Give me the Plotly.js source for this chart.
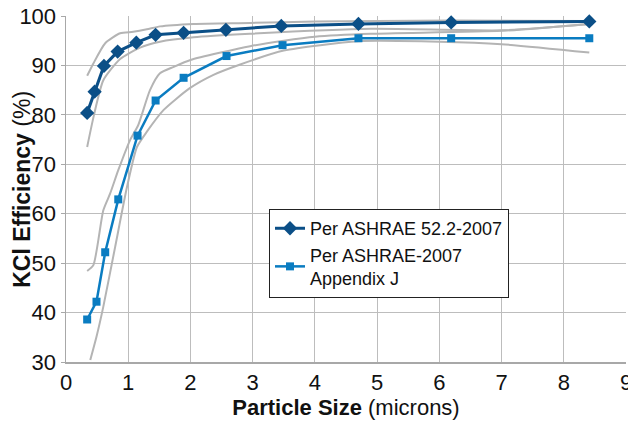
<!DOCTYPE html>
<html>
<head>
<meta charset="utf-8">
<script src="https://cdn.plot.ly/plotly-3.0.1.min.js"></script>
<style>html,body{margin:0;padding:0;background:#fff;}#chart{width:628px;height:421px;}</style>
</head>
<body>
<div id="chart"></div>
<script>
// Measured series
var sizeA = [0.34, 0.46, 0.61, 0.83, 1.13, 1.44, 1.89, 2.57, 3.46, 4.70, 6.19, 8.41];
var effA  = [80.4, 84.7, 89.9, 92.8, 94.6, 96.2, 96.6, 97.2, 98.0, 98.4, 98.7, 98.9];
var sizeB = [0.34, 0.49, 0.63, 0.84, 1.15, 1.44, 1.89, 2.58, 3.48, 4.70, 6.19, 8.41];
var effB  = [38.6, 42.2, 52.2, 62.9, 75.8, 82.9, 87.5, 91.9, 94.1, 95.5, 95.5, 95.5];

// Grey envelope curves
var envAUpX = [0.34, 0.44, 0.63, 0.87, 1.08, 1.30, 1.51, 2.05, 2.96, 4.0, 5.0, 6.2, 8.41];
var envAUpY = [87.9, 90.4, 94.5, 96.5, 96.8, 97.3, 97.9, 98.4, 98.6, 98.9, 99.0, 99.1, 99.0];
var envALoX = [0.34, 0.45, 0.60, 0.87, 1.19, 1.51, 2.05, 2.96, 4.9, 7.0, 8.41];
var envALoY = [73.5, 80.0, 87.0, 91.3, 93.6, 94.8, 95.7, 96.4, 97.4, 97.1, 98.4];
var envBUpX = [0.34, 0.44, 0.60, 0.71, 0.84, 1.03, 1.16, 1.35, 1.51, 1.73, 2.0, 2.96, 3.5, 4.0, 4.9, 7.0, 8.41];
var envBUpY = [48.4, 49.6, 60.7, 64.1, 68.8, 74.9, 77.9, 85.0, 88.4, 89.7, 91.1, 93.9, 95.0, 95.8, 96.4, 97.0, 98.4];
var envBLoX = [0.39, 0.49, 0.60, 0.79, 0.98, 1.14, 1.30, 1.57, 1.99, 2.37, 2.80, 3.50, 4.70, 6.0, 7.0, 8.41];
var envBLoY = [30.4, 35.1, 41.2, 53.3, 65.4, 73.5, 76.6, 81.0, 85.4, 88.1, 90.2, 93.0, 94.9, 94.8, 94.3, 92.6];

var xTicks = [0, 1, 2, 3, 4, 5, 6, 7, 8, 9];
var yTicks = [30, 40, 50, 60, 70, 80, 90, 100];

var FONT = '"Liberation Sans", Arial, sans-serif';
var grey = '#b4b4b4';

function env(x, y) {
  return {x: x, y: y, mode: 'lines', line: {color: grey, width: 2, shape: 'spline', smoothing: 0.6},
          showlegend: false, hoverinfo: 'skip', cliponaxis: false};
}

var traces = [
  env(envAUpX, envAUpY), env(envALoX, envALoY), env(envBUpX, envBUpY), env(envBLoX, envBLoY),
  {x: sizeA, y: effA, name: 'Per ASHRAE 52.2-2007', mode: 'lines+markers', cliponaxis: false,
   line: {color: '#0b4f87', width: 3}, marker: {symbol: 'diamond', size: 11, color: '#0b4f87'}},
  {x: sizeB, y: effB, name: 'Per ASHRAE-2007<br>Appendix J', mode: 'lines+markers', cliponaxis: false,
   line: {color: '#0a7cc1', width: 2.5}, marker: {symbol: 'square', size: 8, color: '#0a7cc1'}}
];

var layout = {
  width: 628, height: 421,
  margin: {l: 66, r: 2, t: 16, b: 59},
  paper_bgcolor: '#fff', plot_bgcolor: '#fff',
  font: {family: FONT, color: '#111', size: 21},
  showlegend: true,
  legend: {x: 0.3625, y: 0.442, xanchor: 'left', yanchor: 'top',
           bgcolor: '#fff', bordercolor: '#222', borderwidth: 1,
           font: {family: FONT, size: 18, color: '#111'}, tracegroupgap: 4},
  xaxis: {range: [0, 9], tickvals: xTicks, ticktext: xTicks.map(String),
          showgrid: true, gridcolor: '#bdbdbd', gridwidth: 1,
          showline: true, linecolor: '#a8a8a8', linewidth: 1.5,
          ticks: '', zeroline: false, ticklabeloverflow: 'allow',
          tickfont: {family: FONT, size: 22, color: '#111'},
          title: {text: '<b>Particle Size</b> (microns)', font: {family: FONT, size: 22, color: '#111'}, standoff: 4}},
  yaxis: {range: [30, 100], tickvals: yTicks, ticktext: yTicks.map(String),
          showgrid: true, gridcolor: '#bdbdbd', gridwidth: 1,
          showline: true, linecolor: '#a8a8a8', linewidth: 1.5,
          ticks: 'outside', ticklen: 4, tickcolor: '#a8a8a8',
          zeroline: false, tickfont: {family: FONT, size: 22, color: '#111'}},
  annotations: [{text: '<b>KCl Efficiency</b> (%)', xref: 'paper', yref: 'paper',
                 x: -0.079, y: 0.5, textangle: -90, showarrow: false,
                 xanchor: 'center', yanchor: 'middle',
                 font: {family: FONT, size: 23, color: '#111'}}]
};

Plotly.newPlot('chart', traces, layout, {displayModeBar: false, staticPlot: true});
</script>
</body>
</html>
